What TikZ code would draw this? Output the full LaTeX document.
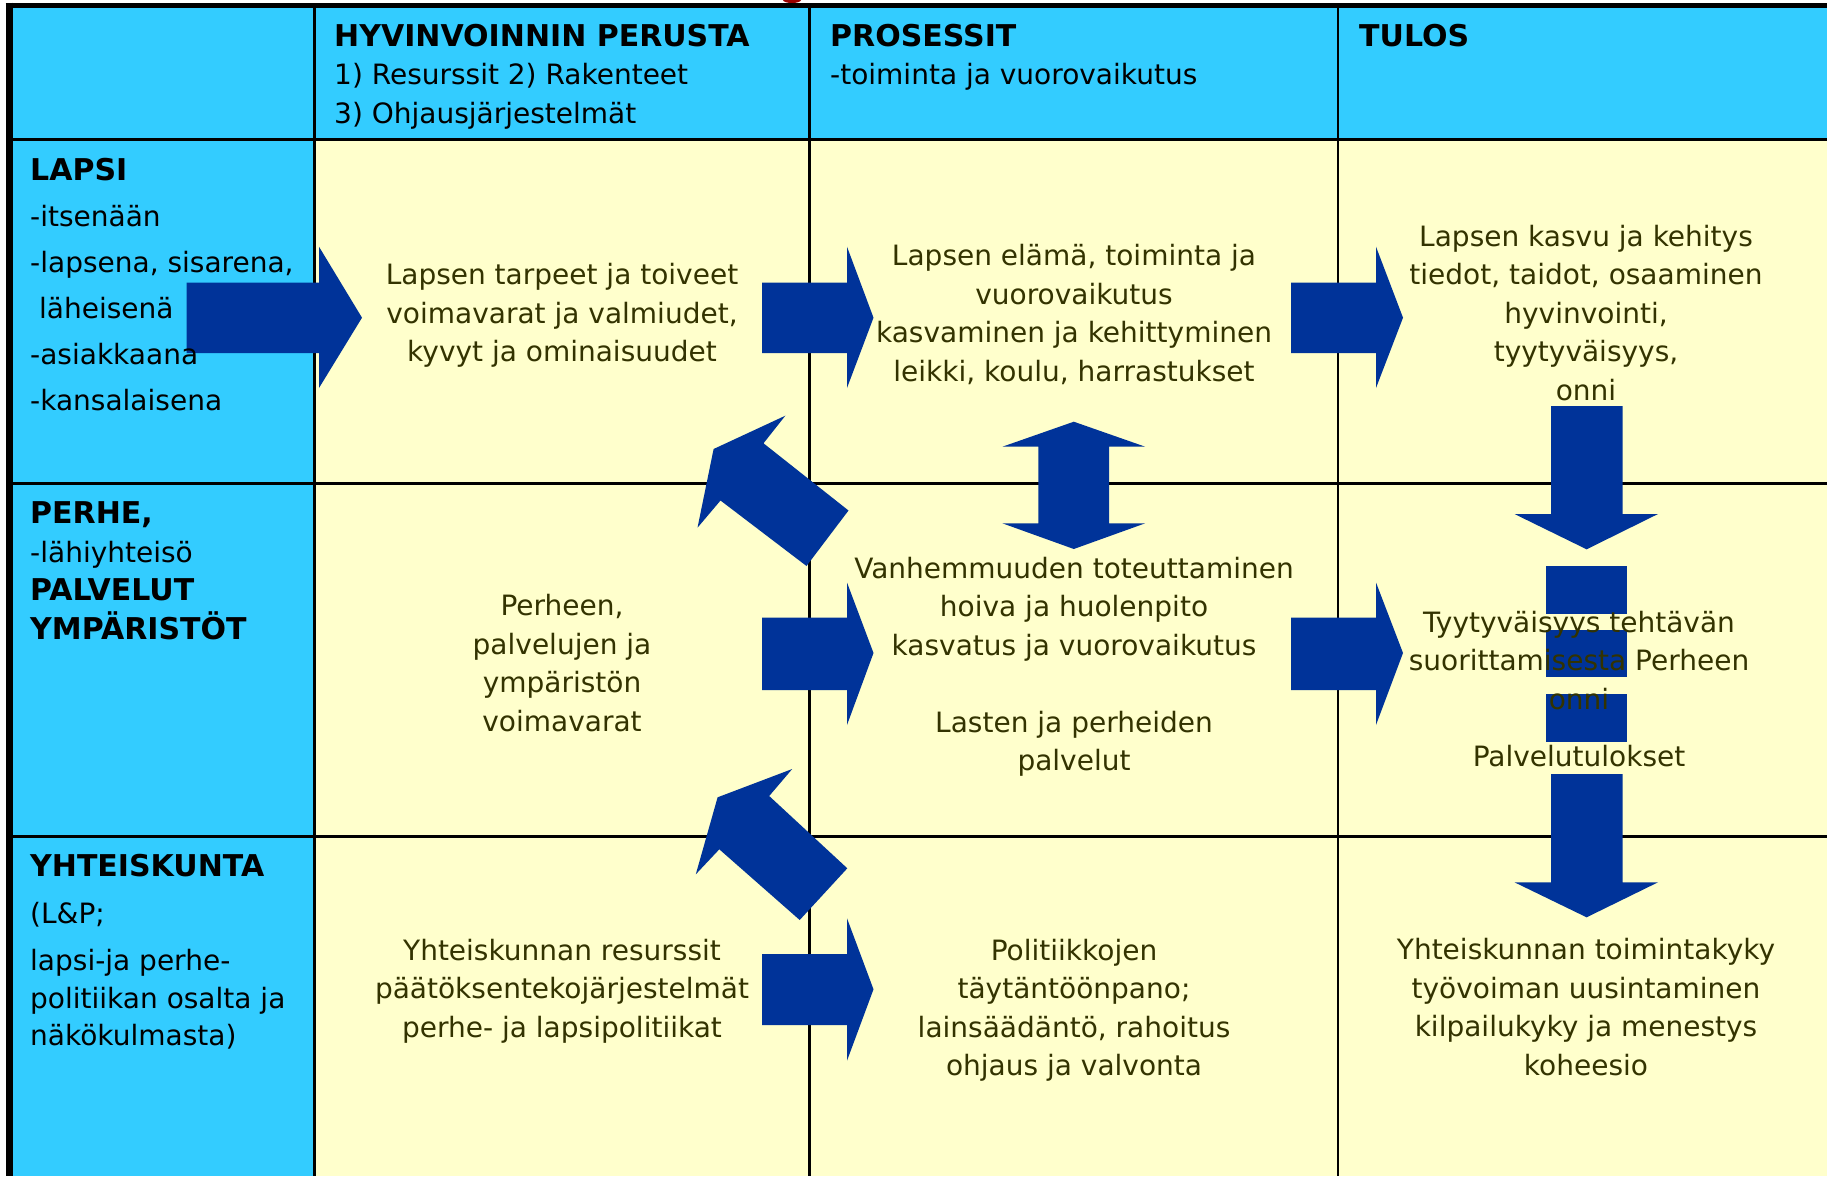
\documentclass[tikz,border=0pt]{standalone}
\usepackage{fontspec}
\setmainfont{DejaVu Sans}
\definecolor{cyanbg}{HTML}{33CCFF}
\definecolor{yellowbg}{HTML}{FFFFCC}
\definecolor{arrowblue}{HTML}{003399}
\definecolor{celltext}{HTML}{333300}
\definecolor{titlered}{HTML}{990000}
\tikzset{
  hdr/.style={font=\fontsize{30}{38}\selectfont\bfseries, anchor=base west, inner sep=0pt},
  lefttxt/.style={font=\fontsize{28}{38}\selectfont, anchor=base west, inner sep=0pt},
  celltxt/.style={font=\fontsize{28}{38.5}\selectfont, align=center, text=celltext, inner sep=0pt},
  blk/.style={fill=arrowblue, draw=none},
  gridline/.style={line width=3pt, black}
}
\begin{document}
\begin{tikzpicture}[x=1pt,y=-1pt]
\useasboundingbox (0,0) rectangle (1827,1176);
% backgrounds
\fill[white] (0,0) rectangle (1827,1176);
\fill[yellowbg] (12,8) rectangle (1827,1176);
\fill[cyanbg] (12,8) rectangle (1827,139);
\fill[cyanbg] (12,139) rectangle (314.6,1176);
\fill[titlered] (792,0) ellipse (9 and 3);
% grid
\draw[gridline] (12,139) -- (1827,139);
\draw[gridline] (12,483) -- (1827,483);
\draw[gridline] (12,836.5) -- (1827,836.5);
\draw[line width=2.6pt] (314.6,8) -- (314.6,1176);
\draw[line width=2.6pt] (809.5,8) -- (809.5,1176);
\draw[line width=2.6pt] (1338,8) -- (1338,1176);
\draw[line width=5.6pt] (5.7,5.5) -- (1827,5.5);
\draw[line width=7pt] (9.2,2.7) -- (9.2,1176);
% horizontal block arrows
\fill[blk] (186.6,282.5) -- (319,282.5) -- (319,246.7) -- (362,317.7) -- (319,388) -- (319,353) -- (186.6,353) -- cycle;
\fill[blk] (762,282.5) -- (847,282.5) -- (847,246.7) -- (873.5,317.7) -- (847,388) -- (847,353) -- (762,353) -- cycle;
\fill[blk] (1291,282.5) -- (1376,282.5) -- (1376,246.7) -- (1403,317.7) -- (1376,388) -- (1376,353) -- (1291,353) -- cycle;
\fill[blk] (762,617.7) -- (847,617.7) -- (847,582.5) -- (873.5,653) -- (847,725) -- (847,690) -- (762,690) -- cycle;
\fill[blk] (1291,617.7) -- (1376,617.7) -- (1376,582.5) -- (1403,653) -- (1376,725) -- (1376,690) -- (1291,690) -- cycle;
\fill[blk] (762,954) -- (847,954) -- (847,918.3) -- (873.5,989.3) -- (847,1060.7) -- (847,1025) -- (762,1025) -- cycle;
% double vertical arrow
\fill[blk] (1073.8,421.7) -- (1145.2,446.7) -- (1109.2,446.7) -- (1109.2,523.3) -- (1145.2,523.3) -- (1073.8,549) -- (1002.4,523.3) -- (1038.4,523.3) -- (1038.4,446.7) -- (1002.4,446.7) -- cycle;
% down arrows in result column
\fill[blk] (1551.2,406) -- (1622.7,406) -- (1622.7,514) -- (1658,514) -- (1586.6,549.3) -- (1514.5,514) -- (1551.2,514) -- cycle;
\fill[blk] (1546,566) rectangle (1627,614);
\fill[blk] (1546,630) rectangle (1627,677);
\fill[blk] (1546,694) rectangle (1627,741.7);
\fill[blk] (1551.2,774) -- (1622.7,774) -- (1622.7,882.3) -- (1658,882.3) -- (1586.6,917.3) -- (1514.5,882.3) -- (1551.2,882.3) -- cycle;
% bent (diagonal) arrows pointing back up-left
\fill[blk] (713.6,449) -- (785.3,415.7) -- (763.5,443.3) -- (848.5,510.5) -- (806.5,566) -- (720.5,500.5) -- (697.5,527.7) -- cycle;
\fill[blk] (717.6,797.3) -- (792.2,769) -- (769.2,796) -- (847.3,868.3) -- (799.7,920) -- (719.3,849.3) -- (695.8,874.3) -- cycle;
% header texts
\node[hdr] (h1) at (334,46) {HYVINVOINNIN PERUSTA};
\node[lefttxt] (h1a) at (334,84.6) {1) Resurssit 2) Rakenteet};
\node[lefttxt] (h1b) at (334,123) {3) Ohjausjärjestelmät};
\node[hdr] (h2) at (830,46) {PROSESSIT};
\node[lefttxt] (h2a) at (830,84.6) {-toiminta ja vuorovaikutus};
\node[hdr] (h3) at (1359,46) {TULOS};
% left column
\node[hdr] (l1) at (30,180) {LAPSI};
\node[lefttxt] (l1a) at (30,226.7) {-itsenään};
\node[lefttxt] (l1b) at (30,272) {-lapsena, sisarena,};
\node[lefttxt] (l1c) at (39,318.8) {läheisenä};
\node[lefttxt] (l1d) at (30,364.2) {-asiakkaana};
\node[lefttxt] (l1e) at (30,410.8) {-kansalaisena};
\node[hdr] (l2) at (30,523.9) {PERHE,};
\node[lefttxt] (l2a) at (30,562.3) {-lähiyhteisö};
\node[hdr] (l2b) at (30,600.8) {PALVELUT};
\node[hdr] (l2c) at (30,639.2) {YMPÄRISTÖT};
\node[hdr] (l3) at (30,876.9) {YHTEISKUNTA};
\node[lefttxt] (l3a) at (30,923.5) {(L\&P;};
\node[lefttxt] (l3b) at (30,970.1) {lapsi-ja perhe-};
\node[lefttxt] (l3c) at (30,1008.6) {politiikan osalta ja};
\node[lefttxt] (l3d) at (30,1045.9) {näkökulmasta)};
% cells
\node[celltxt] (c11) at (562,315.5) {Lapsen tarpeet ja toiveet\\voimavarat ja valmiudet,\\kyvyt ja ominaisuudet};
\node[celltxt] (c12) at (1074,314.7) {Lapsen elämä, toiminta ja\\vuorovaikutus\\kasvaminen ja kehittyminen\\leikki, koulu, harrastukset};
\node[celltxt] (c13) at (1586,313) {Lapsen kasvu ja kehitys\\tiedot, taidot, osaaminen\\hyvinvointi,\\tyytyväisyys,\\onni};
\node[celltxt] (c21) at (562,663) {Perheen,\\palvelujen ja\\ympäristön\\voimavarat};
\node[celltxt] (c22) at (1074,667) {Vanhemmuuden toteuttaminen\\hoiva ja huolenpito\\kasvatus ja vuorovaikutus\\[38.5pt]Lasten ja perheiden\\palvelut};
\node[celltxt] (c23) at (1579,660.5) {Tyytyväisyys tehtävän\\suorittamisesta Perheen\\onni};
\node[celltxt, anchor=base] (c23b) at (1579,766) {Palvelutulokset};
\node[celltxt] (c31) at (562,991) {Yhteiskunnan resurssit\\päätöksentekojärjestelmät\\perhe- ja lapsipolitiikat};
\node[celltxt] (c32) at (1074,1010.3) {Politiikkojen\\täytäntöönpano;\\lainsäädäntö, rahoitus\\ohjaus ja valvonta};
\node[celltxt] (c33) at (1586,1007) {Yhteiskunnan toimintakyky\\työvoiman uusintaminen\\kilpailukyky ja menestys\\koheesio};
\end{tikzpicture}
\end{document}
